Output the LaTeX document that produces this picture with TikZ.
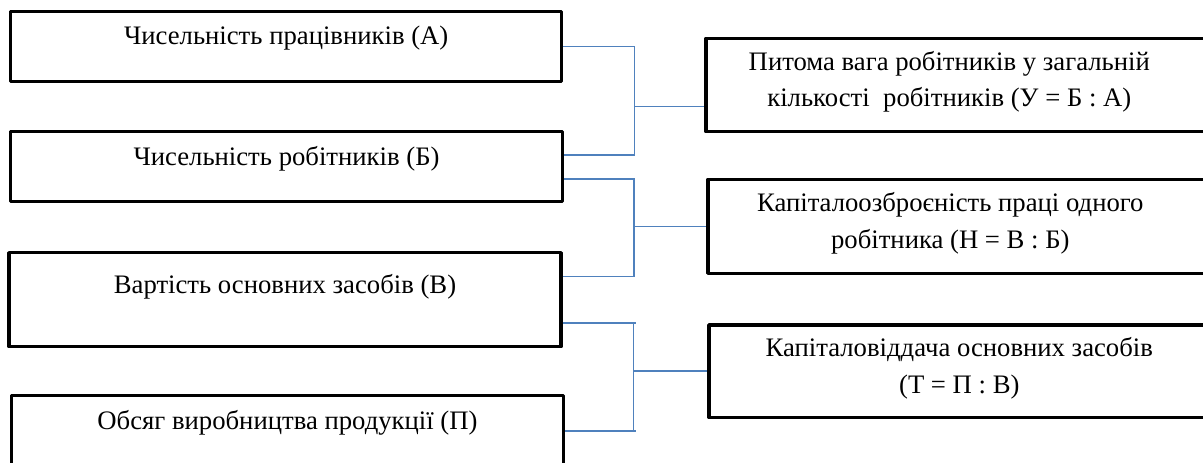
\documentclass[tikz,border=0pt]{standalone}
\usepackage{fontspec}
\setmainfont{Liberation Serif}
\newfontfamily\tnr{Liberation Serif}
\usetikzlibrary{calc}
\definecolor{connblue}{RGB}{79,129,189}
\tikzset{
  box/.style={draw=black, line width=3.4bp, rectangle, inner sep=0pt, line join=round},
  txt/.style={font=\tnr\fontsize{26.8}{36.7}\selectfont, inner sep=0pt, align=center},
  conn/.style={draw=connblue, line width=1.6bp},
}
\begin{document}
\begin{tikzpicture}[x=1bp,y=-1bp]
\useasboundingbox (0,0) rectangle (1203,463);
\clip (0,0) rectangle (1203,463);
% left boxes
\node[box, minimum width=551bp, minimum height=70bp] (A) at (286.2,46.7) {};
\node[box, minimum width=551.5bp, minimum height=70bp] (B) at (286.5,166.7) {};
\node[box, minimum width=552bp, minimum height=94bp] (C) at (285,299.7) {};
\node[box, minimum width=551.6bp, minimum height=84.3bp] (D) at (287.5,437.8) {};
\node[txt, anchor=base] (At) at ($(A.north)+(0,35)$) {Чисельність працівників (А)};
\node[txt, anchor=base] (Bt) at ($(B.north)+(0,35.3)$) {Чисельність робітників (Б)};
\node[txt, anchor=base] (Ct) at ($(C.north)+(0,42.3)$) {Вартість основних засобів (В)};
\node[txt, anchor=base] (Dt) at ($(D.north)+(0,36)$) {Обсяг виробництва продукції (П)};
% right boxes
\node[box, minimum width=514bp, minimum height=93.4bp] (R1) at (963,85) {};
\node[box, minimum width=512bp, minimum height=94bp] (R2) at (964,226.3) {};
\node[box, minimum width=511bp, minimum height=92.5bp] (R3) at (964.5,371.25) {};
\node[txt, anchor=base] (R1t) at ($(R1.north west)+(245,70)$) {Питома вага робітників у загальній\\кількості~ робітників (У = Б : А)};
\node[txt, anchor=base] (R2t) at ($(R2.north west)+(244,70.7)$) {Капіталоозброєність праці одного\\робітника (Н = В : Б)};
\node[txt, anchor=base] (R3t) at ($(R3.north west)+(252,70)$) {Капіталовіддача основних засобів\\(Т = П : В)};
% connectors
\draw[conn] (A.east |- 0,46.7) -- (634.3,46.7) -- (634.3,155) -- (B.east |- 0,155);
\draw[conn] (634.3,106.7) -- (R1.west |- 0,106.7);
\draw[conn] (B.east |- 0,179) -- (634,179) -- (634,276.7) -- (C.east |- 0,276.7);
\draw[conn] (634,226.7) -- (R2.west |- 0,226.7);
\draw[conn] (C.east |- 0,323.3) -- (635.5,323.3);
\draw[conn] (633.3,323.3) -- (633.3,431);
\draw[conn] (D.east |- 0,431) -- (635.5,431);
\draw[conn] (633.3,371) -- (R3.west |- 0,371);
\end{tikzpicture}
\end{document}
